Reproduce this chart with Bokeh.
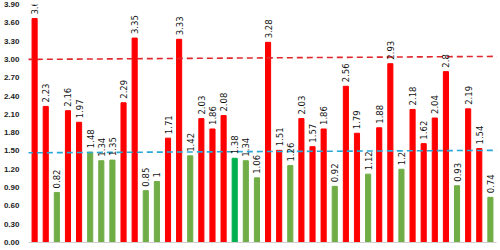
import math
from bokeh.plotting import figure
from bokeh.models import ColumnDataSource, FixedTicker, NumeralTickFormatter, Range1d
from bokeh.core.properties import value
from bokeh.embed import file_html
from bokeh.resources import INLINE

values = [3.67, 2.23, 0.82, 2.16, 1.97, 1.48, 1.34, 1.35, 2.29, 3.35,
          0.85, 1, 1.71, 3.33, 1.42, 2.03, 1.86, 2.08, 1.38, 1.34,
          1.06, 3.28, 1.51, 1.26, 2.03, 1.57, 1.86, 0.92, 2.56, 1.79,
          1.12, 1.88, 2.93, 1.2, 2.18, 1.62, 2.04, 2.8, 0.93, 2.19,
          1.54, 0.74]
labels = ["3.67", "2.23", "0.82", "2.16", "1.97", "1.48", "1.34", "1.35", "2.29", "3.35",
          "0.85", "1", "1.71", "3.33", "1.42", "2.03", "1.86", "2.08", "1.38", "1.34",
          "1.06", "3.28", "1.51", "1.26", "2.03", "1.57", "1.86", "0.92", "2.56", "1.79",
          "1.12", "1.88", "2.93", "1.2", "2.18", "1.62", "2.04", "2.8", "0.93", "2.19",
          "1.54", "0.74"]
upper_line = [3.00, 3.05]
lower_line = [1.47, 1.51]
y_ticks = [round(0.3 * i, 2) for i in range(14)]

n = len(values)
xs = list(range(n))
colors = []
for i, v in enumerate(values):
    if v > 1.5:
        colors.append("#FF0000")
    elif i == 18:
        colors.append("#00B050")
    else:
        colors.append("#70AD47")

src = ColumnDataSource(dict(x=xs, top=values, color=colors, label=labels))

p = figure(width=500, height=250, output_backend="svg", toolbar_location=None,
           x_range=Range1d(-0.55, n - 0.45), y_range=Range1d(0, 3.9),
           min_border_left=24, min_border_right=4, min_border_top=4, min_border_bottom=8)
p.outline_line_color = None
p.grid.visible = False
p.background_fill_color = "white"

p.vbar(x="x", top="top", width=0.46, color="color", source=src)

p.line([-0.7, n - 0.4], upper_line, line_color="#E0282C", line_width=1.6, line_dash="6 4")
p.line([-0.7, n - 0.4], lower_line, line_color="#29A9D9", line_width=1.6, line_dash="6 4")

p.text(x="x", y="top", text="label", source=src, angle=math.pi / 2,
       text_align="left", text_baseline="middle", x_offset=0, y_offset=-4,
       text_font=value("DejaVu Sans"), text_font_size="8.5px", text_color="#111111")

p.yaxis.ticker = FixedTicker(ticks=y_ticks)
p.yaxis.formatter = NumeralTickFormatter(format="0.00")
p.yaxis.major_label_text_font = "Liberation Sans"
p.yaxis.major_label_text_font_size = "8px"
p.yaxis.major_label_text_font_style = "bold"
p.yaxis.major_label_text_color = "#222222"
p.yaxis.axis_line_color = None
p.yaxis.major_tick_line_color = None
p.yaxis.minor_tick_line_color = None
p.yaxis.major_label_standoff = 3

p.xaxis.axis_line_color = "#D0D0D0"
p.xaxis.major_tick_line_color = None
p.xaxis.minor_tick_line_color = None
p.xaxis.major_label_text_font_size = "0px"
p.xaxis.major_label_text_color = None

open("out.html", "w").write(file_html(p, INLINE))
